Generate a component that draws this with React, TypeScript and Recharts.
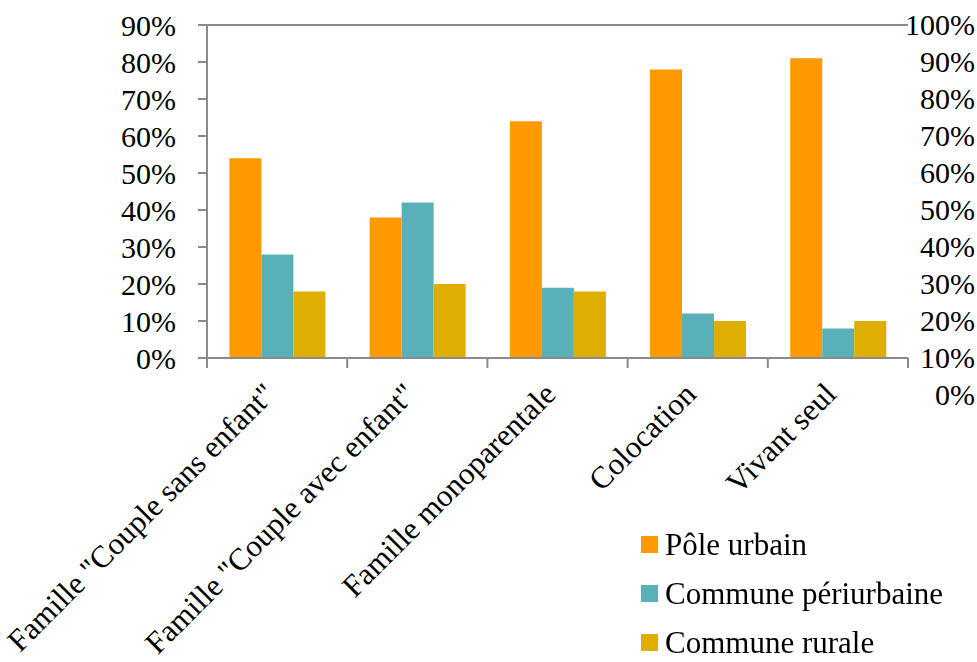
import React from 'react'
import { BarChart, Bar, XAxis, YAxis, CartesianGrid, Legend } from 'recharts'

const categories = [
  'Famille "Couple sans enfant"',
  'Famille "Couple avec enfant"',
  'Famille monoparentale',
  'Colocation',
  'Vivant seul',
]
const poleUrbain = [54, 38, 64, 78, 81]
const communePeriurbaine = [28, 42, 19, 12, 8]
const communeRurale = [18, 20, 18, 10, 10]

const leftTicks = [0, 10, 20, 30, 40, 50, 60, 70, 80, 90]
const rightTicks = [0, 10, 20, 30, 40, 50, 60, 70, 80, 90, 100]

const series = [
  { key: 'pole', name: 'Pôle urbain', color: '#FF9900' },
  { key: 'peri', name: 'Commune périurbaine', color: '#5AB0B8' },
  { key: 'rural', name: 'Commune rurale', color: '#DEAE00' },
]

const data = categories.map((name, i) => ({
  name,
  pole: poleUrbain[i],
  peri: communePeriurbaine[i],
  rural: communeRurale[i],
}))

const W = 977
const H = 662
const LEFT = 207
const RIGHT_W = 69
const FONT = '"Liberation Serif", "Times New Roman", serif'
const AXIS = '#8a8a8a'
const halfBand = (W - LEFT - RIGHT_W) / categories.length / 2

const CategoryTick = ({ x, y, payload, index }: any) => (
  <g>
    <line x1={x - halfBand} y1={y - 8} x2={x - halfBand} y2={y + 2} stroke={AXIS} strokeWidth={2} />
    {index === categories.length - 1 && (
      <line x1={x + halfBand} y1={y - 8} x2={x + halfBand} y2={y + 2} stroke={AXIS} strokeWidth={2} />
    )}
    <text
      x={x}
      y={y + 30}
      textAnchor="end"
      transform={`rotate(-45 ${x} ${y + 30})`}
      fontFamily={FONT}
      fontSize={31}
      fill="#000"
    >
      {payload.value}
    </text>
  </g>
)

const RightTick = ({ y, payload }: any) => (
  <text x={W - 2} y={y} dy={10} textAnchor="end" fontFamily={FONT} fontSize={30} fill="#000">
    {payload.value}%
  </text>
)

const renderLegend = () => (
  <div style={{ fontFamily: FONT, fontSize: 31, color: '#000', textAlign: 'left' }}>
    {series.map((s) => (
      <div key={s.key} style={{ display: 'flex', alignItems: 'center', height: 49 }}>
        <span style={{ width: 17, height: 17, background: s.color, marginRight: 7 }} />
        <span>{s.name}</span>
      </div>
    ))}
  </div>
)

export default function App() {
  return (
    <div style={{ position: 'fixed', left: 0, top: 0, background: '#fff' }}>
      <BarChart
        width={W}
        height={H}
        data={data}
        margin={{ top: 25, right: 0, bottom: 0, left: 0 }}
        barCategoryGap="16%"
        barGap={0}
      >
        <CartesianGrid vertical={false} stroke={AXIS} strokeWidth={2} />
        <XAxis
          dataKey="name"
          height={304}
          interval={0}
          tickLine={false}
          axisLine={{ stroke: AXIS, strokeWidth: 2 }}
          tick={<CategoryTick />}
        />
        <YAxis
          yAxisId="left"
          width={LEFT}
          domain={[0, 90]}
          ticks={leftTicks}
          interval={0}
          tickSize={9}
          tickMargin={22}
          tickFormatter={(v: number) => `${v}%`}
          axisLine={{ stroke: AXIS, strokeWidth: 2 }}
          tickLine={{ stroke: AXIS, strokeWidth: 2 }}
          tick={{ fontFamily: FONT, fontSize: 30, fill: '#000' }}
        />
        <YAxis
          yAxisId="right"
          orientation="right"
          width={RIGHT_W}
          domain={[10, 100]}
          ticks={rightTicks}
          interval={0}
          allowDataOverflow
          axisLine={false}
          tickLine={false}
          tick={<RightTick />}
        />
        <Legend
          layout="vertical"
          verticalAlign="middle"
          align="center"
          content={renderLegend}
          wrapperStyle={{ left: 641, top: 520, width: 336 }}
        />
        {series.map((s) => (
          <Bar
            key={s.key}
            yAxisId="left"
            dataKey={s.key}
            name={s.name}
            fill={s.color}
            isAnimationActive={false}
          />
        ))}
      </BarChart>
    </div>
  )
}
